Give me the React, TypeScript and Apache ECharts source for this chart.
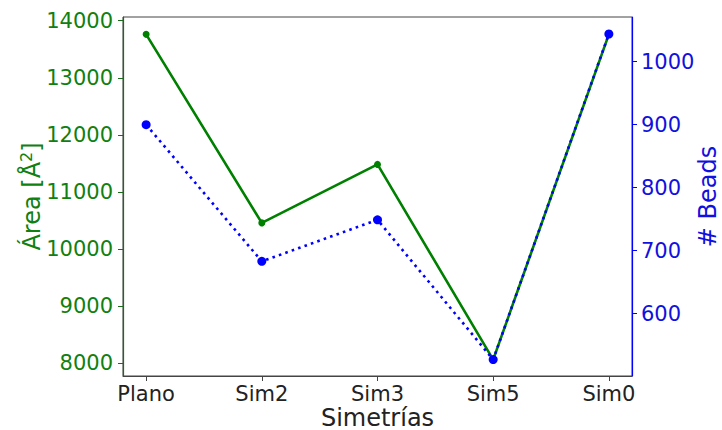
import React, { useEffect, useRef } from "react";
import * as echarts from "echarts";

// Symmetry variants along the x axis
const categories = ["Plano", "Sim2", "Sim3", "Sim5", "Sim0"];
// Surface area (Å²) per variant — left axis
const areaValues = [13761, 10456, 11481, 8060, 13761];
// Number of beads per variant — right axis
const beadValues = [900, 683, 749, 527, 1044];
// Tick labels
const areaTicks = [8000, 9000, 10000, 11000, 12000, 13000, 14000];
const beadTicks = [600, 700, 800, 900, 1000];

const FONT = "DejaVu Sans";
const GREEN_TEXT = "#108010";
const BLUE_TEXT = "#1010e0";

export default function App() {
  const ref = useRef<HTMLDivElement>(null);

  useEffect(() => {
    if (!ref.current) return;
    const chart = echarts.init(ref.current, null, { renderer: "svg" });
    const catIdx = categories.map((_, i) => i);
    const plain = (v: number) => String(Math.round(v));

    chart.setOption({
      animation: false,
      backgroundColor: "#ffffff",
      textStyle: { fontFamily: FONT },
      grid: {
        left: 123,
        right: 90,
        top: 17,
        bottom: 54,
        show: true,
        borderColor: "#444",
        borderWidth: 1,
        containLabel: false,
        outerBoundsMode: "none",
      },
      xAxis: {
        type: "value",
        min: -0.2,
        max: 4.2,
        name: "Simetrías",
        nameLocation: "middle",
        nameGap: 30,
        nameMoveOverlap: false,
        nameTextStyle: { fontFamily: FONT, fontSize: 24, color: "#222" },
        axisLine: { show: true, onZero: false, lineStyle: { color: "#444", width: 1 } },
        axisTick: {
          show: true,
          customValues: catIdx,
          length: 5,
          lineStyle: { color: "#444" },
        },
        axisLabel: {
          customValues: catIdx,
          formatter: (v: number) => categories[Math.round(v)] ?? "",
          fontFamily: FONT,
          fontSize: 21,
          color: "#222",
          margin: 7,
        },
        splitLine: { show: false },
      },
      yAxis: [
        {
          type: "value",
          position: "left",
          min: 7772,
          max: 14065,
          name: "{a|Área [Å}{s|2}{a|]}",
          nameLocation: "middle",
          nameGap: 78,
          nameMoveOverlap: false,
          nameRotate: 90,
          nameTextStyle: {
            fontFamily: FONT,
            fontSize: 24,
            color: GREEN_TEXT,
            rich: {
              a: { fontFamily: FONT, fontSize: 24, color: GREEN_TEXT },
              s: {
                fontFamily: FONT,
                fontSize: 16,
                color: GREEN_TEXT,
                padding: [0, 0, 11, 0],
              },
            },
          },
          axisLine: { show: true, onZero: false, lineStyle: { color: "#1c6b1c", width: 1.2 } },
          axisTick: {
            show: true,
            customValues: areaTicks,
            length: 5,
            lineStyle: { color: "#1c6b1c" },
          },
          axisLabel: {
            customValues: areaTicks,
            formatter: plain,
            fontFamily: FONT,
            fontSize: 21,
            color: GREEN_TEXT,
            margin: 10,
          },
          splitLine: { show: false },
        },
        {
          type: "value",
          position: "right",
          min: 501,
          max: 1071,
          name: "# Beads",
          nameLocation: "middle",
          nameGap: 64,
          nameMoveOverlap: false,
          nameRotate: 90,
          nameTextStyle: { fontFamily: FONT, fontSize: 24, color: BLUE_TEXT },
          axisLine: { show: true, onZero: false, lineStyle: { color: "#0000ff", width: 1.2 } },
          axisTick: {
            show: true,
            customValues: beadTicks,
            length: 5,
            lineStyle: { color: "#0000ff" },
          },
          axisLabel: {
            customValues: beadTicks,
            formatter: plain,
            fontFamily: FONT,
            fontSize: 21,
            color: BLUE_TEXT,
            margin: 9,
          },
          splitLine: { show: false },
        },
      ],
      series: [
        {
          type: "line",
          yAxisIndex: 0,
          data: areaValues.map((v, i) => [i, v]),
          symbol: "circle",
          symbolSize: 7,
          itemStyle: { color: "#008000" },
          lineStyle: { color: "#008000", width: 2.6 },
          z: 2,
        },
        {
          type: "line",
          yAxisIndex: 1,
          data: beadValues.map((v, i) => [i, v]),
          symbol: "circle",
          symbolSize: 9,
          itemStyle: { color: "#0000ff" },
          lineStyle: { color: "#0000ff", width: 2.6, type: [2.6, 4.2] },
          z: 3,
        },
      ],
    });

    return () => chart.dispose();
  }, []);

  return (
    <div
      ref={ref}
      style={{ position: "fixed", left: 0, top: 0, width: 722, height: 430 }}
    />
  );
}
